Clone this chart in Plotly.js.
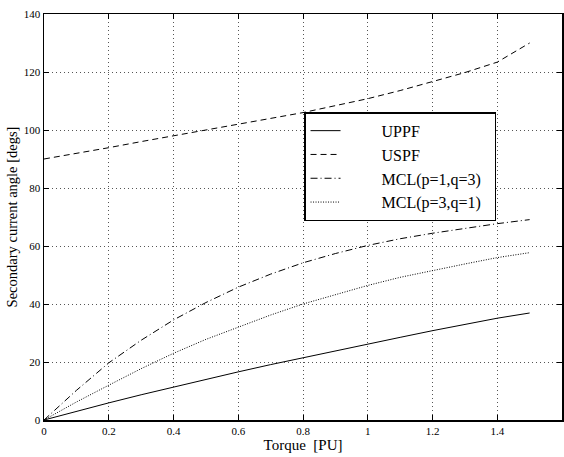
<!DOCTYPE html>
<html>
<head>
<meta charset="utf-8">
<script src="https://cdn.plot.ly/plotly-3.0.1.min.js"></script>
<style>html,body{margin:0;padding:0;background:#fff;}</style>
</head>
<body>
<div id="chart" style="width:564px;height:457px;"></div>
<script>
var torque = [0, 0.1, 0.2, 0.3, 0.4, 0.5, 0.6, 0.7, 0.8, 0.9, 1.0, 1.1, 1.2, 1.3, 1.4, 1.5];
var uppf   = [0, 3.0, 5.9, 8.7, 11.4, 14.0, 16.6, 19.1, 21.5, 23.9, 26.2, 28.5, 30.8, 33.0, 35.1, 36.9];
var uspf   = [90, 91.9, 93.9, 96.0, 98.0, 100.0, 102.0, 104.0, 106.0, 108.4, 110.8, 113.6, 116.6, 119.8, 123.4, 130.0];
var mcl13  = [0, 10.2, 19.7, 27.5, 34.5, 40.5, 45.8, 50.3, 54.2, 57.4, 60.2, 62.5, 64.4, 66.1, 67.7, 69.1];
var mcl31  = [0, 6.2, 12.0, 17.7, 23.0, 27.8, 32.0, 36.2, 40.0, 43.3, 46.4, 49.2, 51.6, 53.8, 56.0, 57.7];
var seriesNames = ['UPPF', 'USPF', 'MCL(p=1,q=3)', 'MCL(p=3,q=1)'];
var xTitle = 'Torque\u00a0\u00a0[PU]';
var yTitle = 'Secondary current angle [degs]';

var pad = '\u00a0\u00a0\u00a0\u00a0\u00a0\u00a0\u00a0\u00a0\u00a0';
var tail = '\u00a0\u00a0';
var dashes = ['solid', '6px,4px', '7px,3px,1px,3px', '1px,1.5px'];
var ys = [uppf, uspf, mcl13, mcl31];
var traces = ys.map(function (y, i) {
  return {
    x: torque, y: y, type: 'scatter', mode: 'lines',
    name: pad + seriesNames[i] + tail,
    line: {color: '#000', width: 1, dash: dashes[i]}
  };
});

var axisCommon = {
  showline: true, linecolor: '#000', linewidth: 1.5, mirror: 'ticks',
  ticks: 'inside', ticklen: 5, tickcolor: '#000', tickwidth: 1,
  showgrid: true, gridcolor: '#555', gridwidth: 1, griddash: '1px,3px',
  zeroline: false,
  tickfont: {family: 'Liberation Serif', size: 11, color: '#000'}
};

var layout = {
  width: 564, height: 457,
  margin: {l: 44, r: 2, t: 14, b: 37},
  paper_bgcolor: '#fff', plot_bgcolor: '#fff',
  font: {family: 'Liberation Serif', color: '#000'},
  showlegend: true,
  legend: {
    x: 0.502, y: 0.758, xanchor: 'left', yanchor: 'top',
    bgcolor: '#fff', bordercolor: '#000', borderwidth: 1.5,
    font: {family: 'Liberation Serif', size: 16, color: '#000'},
    tracegroupgap: 0
  },
  xaxis: Object.assign({}, axisCommon, {
    range: [0, 1.6], dtick: 0.2, tick0: 0,
    title: {text: xTitle, font: {family: 'Liberation Serif', size: 15, color: '#000'}, standoff: 4}
  }),
  yaxis: Object.assign({}, axisCommon, {
    range: [0, 140], dtick: 20, tick0: 0,
    title: {text: yTitle, font: {family: 'Liberation Serif', size: 14.5, color: '#000'}, standoff: 2}
  })
};

Plotly.newPlot('chart', traces, layout, {displayModeBar: false, staticPlot: true});
</script>
</body>
</html>
